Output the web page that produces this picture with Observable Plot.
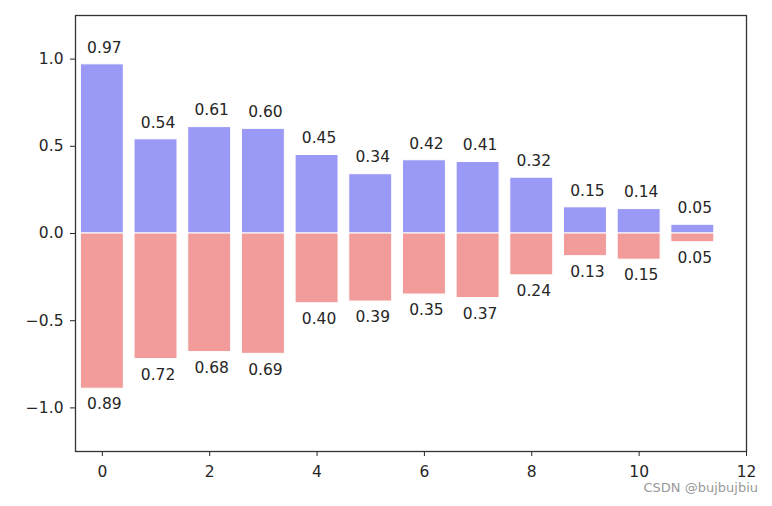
<!DOCTYPE html>
<html>
<head>
<meta charset="utf-8">
<script src="https://cdn.jsdelivr.net/npm/d3@7"></script>
<script src="https://cdn.jsdelivr.net/npm/@observablehq/plot@0.6"></script>
<style>
  html, body { margin: 0; padding: 0; background: #fff; }
  #wrap { position: relative; width: 772px; height: 506px; }
  #mark { position: absolute; right: 14px; top: 480px; font: 13px "DejaVu Sans", sans-serif; color: #999; }
</style>
</head>
<body>
<div id="wrap"><div id="chart"></div><div id="mark">CSDN @bujbujbiu</div></div>
<script>
const xs = [0, 1, 2, 3, 4, 5, 6, 7, 8, 9, 10, 11];
const upper = [0.97, 0.54, 0.61, 0.60, 0.45, 0.34, 0.42, 0.41, 0.32, 0.15, 0.14, 0.05];
const lower = [0.89, 0.72, 0.68, 0.69, 0.40, 0.39, 0.35, 0.37, 0.24, 0.13, 0.15, 0.05];
const xTicks = [0, 2, 4, 6, 8, 10, 12];
const yTicks = [-1, -0.5, 0, 0.5, 1];

const up = xs.map((x, i) => ({x, v: upper[i]}));
const lo = xs.map((x, i) => ({x, v: -lower[i]}));
const fmt = d3.format(".2f");
const font = "DejaVu Sans, sans-serif";

const chart = Plot.plot({
  width: 772,
  height: 506,
  marginLeft: 75,
  marginRight: 26,
  marginTop: 15,
  marginBottom: 55,
  style: {fontFamily: font, fontSize: "15.5px", color: "#262626", background: "white"},
  x: {domain: [-0.5, 12], ticks: xTicks, tickSize: 5, tickPadding: 9, label: null, tickFormat: d3.format("d")},
  y: {domain: [-1.25, 1.25], ticks: yTicks, tickSize: 5, tickPadding: 7, label: null, tickFormat: d3.format(".1f")},
  marks: [
    Plot.rectY(up, {x1: d => d.x - 0.4, x2: d => d.x + 0.4, y1: 0, y2: "v", fill: "#9a9af6", stroke: "white", strokeWidth: 1}),
    Plot.rectY(lo, {x1: d => d.x - 0.4, x2: d => d.x + 0.4, y1: 0, y2: "v", fill: "#f19c9a", stroke: "white", strokeWidth: 1}),
    Plot.text(up, {x: "x", y: d => d.v + 0.05, text: d => fmt(d.v), lineAnchor: "bottom", dy: -3, dx: 2, fontSize: 15.5, fill: "#262626"}),
    Plot.text(lo, {x: "x", y: d => d.v - 0.05, text: d => fmt(-d.v), lineAnchor: "top", dy: 1, dx: 2, fontSize: 15.5, fill: "#262626"}),
    Plot.frame({stroke: "#333", strokeWidth: 1.3})
  ]
});
document.getElementById("chart").appendChild(chart);
</script>
</body>
</html>
